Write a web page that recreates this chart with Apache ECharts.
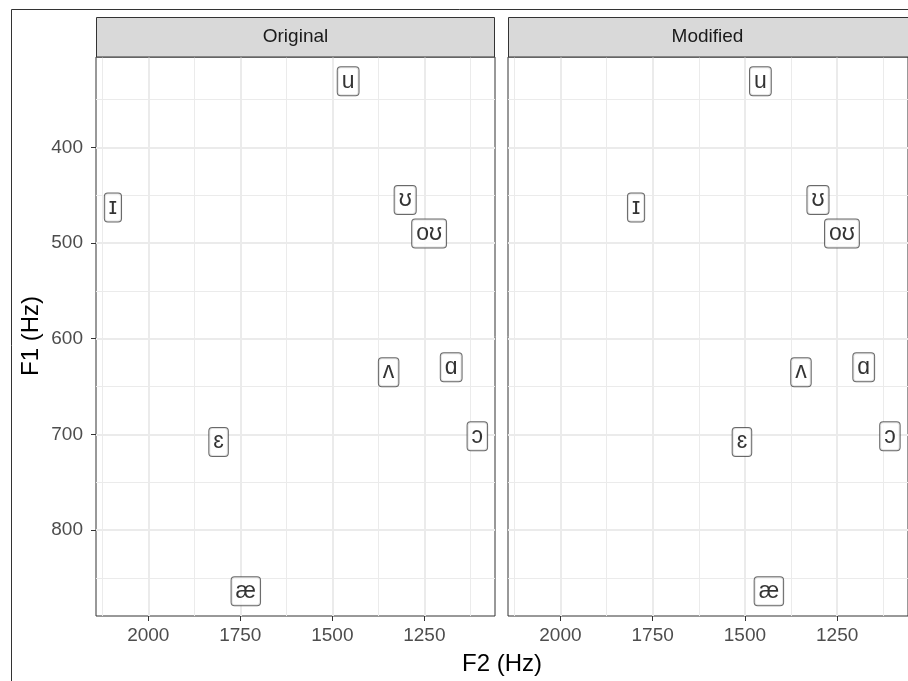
<!DOCTYPE html>
<html lang="en">
<head>
    <meta charset="utf-8" />
    <title>F1 / F2 vowel chart</title>
    <style>
        html, body { margin: 0; padding: 0; background: #fff; }
        #main { width: 908px; height: 681px; }
    </style>
</head>
<body>
<div id="main"></div>
<script src="https://cdn.jsdelivr.net/npm/echarts@6/dist/echarts.min.js"></script>
<script type="text/javascript">
    // 元音与共振峰数据
    var vowels = ['u', 'ɪ', 'ʊ', 'oʊ', 'ʌ', 'ɑ', 'ɔ', 'ɛ', 'æ'];
    var f1 = [331, 463, 455, 490, 635, 630, 702, 708, 864];
    var f2Original = [1457, 2096, 1302, 1237, 1347, 1177, 1106, 1809, 1735];
    var f2Modified = [1458, 1795, 1302, 1237, 1348, 1178, 1107, 1508, 1435];
    var panels = ['Original', 'Modified'];

    // 刻度
    var xTicks = [2000, 1750, 1500, 1250];
    var xMinor = [2125, 1875, 1625, 1375, 1125];
    var yTicks = [400, 500, 600, 700, 800];
    var yMinor = [350, 450, 550, 650, 750, 850];

    var xRange = [1058, 2142];
    var yRange = [305.6, 889.9];

    var grids = [
        {left: 96, top: 57, width: 399, height: 559},
        {left: 508, top: 57, width: 402, height: 559}
    ];

    var myChart = echarts.init(document.getElementById('main'));

    var tickFont = {fontFamily: 'Liberation Sans, Arial, sans-serif', fontSize: 19, color: '#4d4d4d'};
    var plain = function (v) { return String(v); };

    var gridLines = function () {
        var d = [];
        for (var i = 0; i < xMinor.length; i++) d.push({xAxis: xMinor[i], lineStyle: {width: 1}});
        for (var i = 0; i < yMinor.length; i++) d.push({yAxis: yMinor[i], lineStyle: {width: 1}});
        for (var i = 0; i < xTicks.length; i++) d.push({xAxis: xTicks[i], lineStyle: {width: 2}});
        for (var i = 0; i < yTicks.length; i++) d.push({yAxis: yTicks[i], lineStyle: {width: 2}});
        return d;
    };

    var xAxes = [], yAxes = [], series = [], graphics = [];
    for (var p = 0; p < 2; p++) {
        xAxes.push({
            type: 'value', gridIndex: p, inverse: true,
            min: xRange[0], max: xRange[1],
            axisLine: {show: false},
            splitLine: {show: false},
            axisTick: {show: true, length: 5, customValues: xTicks, lineStyle: {color: '#333', width: 1}},
            axisLabel: Object.assign({show: true, margin: 10, customValues: xTicks, formatter: plain}, tickFont)
        });
        yAxes.push({
            type: 'value', gridIndex: p, inverse: true,
            min: yRange[0], max: yRange[1],
            axisLine: {show: false},
            splitLine: {show: false},
            axisTick: {show: p === 0, length: 5, customValues: yTicks, lineStyle: {color: '#333', width: 1}},
            axisLabel: Object.assign({show: p === 0, margin: 13, customValues: yTicks, formatter: plain}, tickFont)
        });

        var f2 = p === 0 ? f2Original : f2Modified;
        var pts = [];
        for (var i = 0; i < vowels.length; i++) {
            pts.push([f2[i], f1[i], vowels[i]]);
        }

        // 网格线
        series.push({
            type: 'line', xAxisIndex: p, yAxisIndex: p, data: [], z: 1, silent: true,
            markLine: {
                silent: true, symbol: 'none', z: 1, animation: false,
                label: {show: false},
                lineStyle: {color: '#ebebeb', type: 'solid'},
                data: gridLines()
            }
        });

        // 元音标签
        series.push({
            type: 'scatter', xAxisIndex: p, yAxisIndex: p, z: 10,
            symbolSize: 0.1,
            itemStyle: {color: 'transparent'},
            data: pts,
            label: {
                show: true, position: 'inside',
                formatter: function (params) { return params.value[2]; },
                fontFamily: 'Liberation Sans, DejaVu Sans, sans-serif', fontSize: 23, lineHeight: 24, color: '#000',
                backgroundColor: '#fff', borderColor: '#444', borderWidth: 1, borderRadius: 3,
                padding: [2, 4, 2, 4]
            }
        });

        // 分面标题条
        graphics.push({
            type: 'rect', z: 5,
            shape: {x: grids[p].left + 0.5, y: 17.5, width: grids[p].width - 1, height: 39.5},
            style: {fill: '#d9d9d9', stroke: '#333', lineWidth: 1}
        });
        graphics.push({
            type: 'text', z: 6,
            x: grids[p].left + 199.5, y: 37,
            style: {text: panels[p], fontFamily: 'Liberation Sans, Arial, sans-serif', fontSize: 19,
                fill: '#1a1a1a', align: 'center', verticalAlign: 'middle'}
        });
    }

    // 外框与轴标题
    graphics.push({type: 'line', z: 5, shape: {x1: 11.5, y1: 9.5, x2: 11.5, y2: 681}, style: {stroke: '#333', lineWidth: 1}});
    graphics.push({type: 'line', z: 5, shape: {x1: 11.5, y1: 9.5, x2: 908, y2: 9.5}, style: {stroke: '#333', lineWidth: 1}});
    graphics.push({
        type: 'text', z: 6, x: 502, y: 664,
        style: {text: 'F2 (Hz)', fontFamily: 'Liberation Sans, Arial, sans-serif', fontSize: 24,
            fill: '#000', align: 'center', verticalAlign: 'middle'}
    });
    graphics.push({
        type: 'text', z: 6, x: 31, y: 336, rotation: Math.PI / 2,
        style: {text: 'F1 (Hz)', fontFamily: 'Liberation Sans, Arial, sans-serif', fontSize: 24,
            fill: '#000', align: 'center', verticalAlign: 'middle'}
    });

    var option = {
        animation: false,
        grid: grids.map(function (g) {
            return Object.assign({show: true, backgroundColor: '#fff', borderColor: '#333', borderWidth: 1}, g);
        }),
        xAxis: xAxes,
        yAxis: yAxes,
        series: series,
        graphic: graphics
    };

    myChart.setOption(option);
</script>
</body>
</html>
